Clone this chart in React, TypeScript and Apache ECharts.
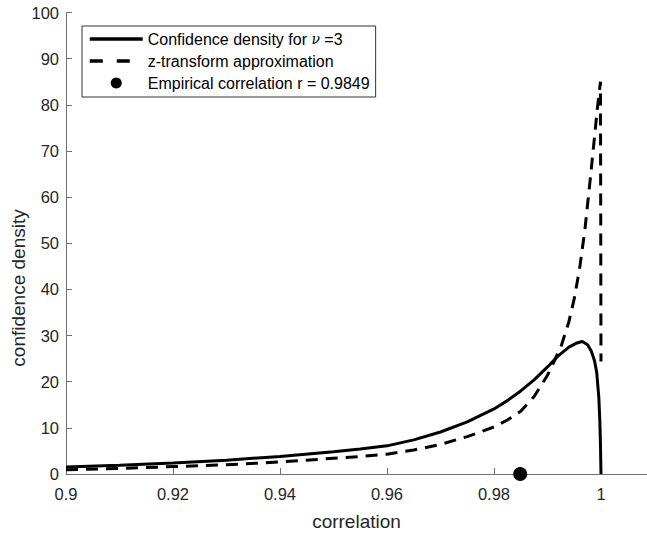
import React, { useEffect, useRef } from 'react';
import * as echarts from 'echarts';

const FONT = "'Liberation Sans', Arial, Helvetica, sans-serif";

const seriesNames = [
  'Confidence density for ν =3',
  'z-transform approximation',
  'Empirical correlation r = 0.9849',
];

// Confidence density for nu = 3
const confidenceDensity: [number, number][] = [
  [0.9, 1.5], [0.91, 1.9], [0.92, 2.4], [0.93, 3.0], [0.94, 3.8], [0.95, 4.8],
  [0.955, 5.4], [0.96, 6.1], [0.965, 7.4], [0.97, 9.1], [0.975, 11.3], [0.98, 14.1],
  [0.9825, 15.9], [0.985, 18.0], [0.9875, 20.4], [0.99, 23.2], [0.992, 25.6],
  [0.994, 27.5], [0.9955, 28.4], [0.9965, 28.7], [0.9975, 28.0], [0.9982, 26.6],
  [0.9988, 24.5], [0.9992, 22.0], [0.9996, 16.5], [0.9998, 11.0], [0.9999, 6.5],
  [1.0, 0],
];

// z-transform approximation
const zApprox: [number, number][] = [
  [0.9, 0.9], [0.91, 1.2], [0.92, 1.6], [0.93, 2.0], [0.94, 2.6], [0.95, 3.4],
  [0.955, 3.8], [0.96, 4.3], [0.965, 5.2], [0.97, 6.4], [0.975, 8.1], [0.98, 10.2],
  [0.9825, 11.7], [0.985, 13.6], [0.9875, 16.8], [0.99, 21.4], [0.9925, 27.5],
  [0.994, 33], [0.995, 38], [0.996, 44.5], [0.997, 53], [0.998, 64],
  [0.9987, 72], [0.9993, 79], [0.9997, 83], [0.9999, 85], [1.0, 24.4],
];

const empirical: [number, number][] = [[0.9849, 0]];

const xMin = 0.9;
const xMax = 1.0086;
const xStep = 0.02;
const yMin = 0;
const yMax = 100;
const yStep = 10;

export default function App() {
  const ref = useRef<HTMLDivElement>(null);

  useEffect(() => {
    if (!ref.current) return;
    const chart = echarts.init(ref.current, null, { renderer: 'svg' });
    const axisColor = '#707070';
    const labelColor = '#262626';
    const hiddenSymbol = { color: 'rgba(0,0,0,0)', borderWidth: 0, borderColor: 'rgba(0,0,0,0)', opacity: 0 };
    chart.setOption({
      animation: false,
      backgroundColor: '#ffffff',
      textStyle: { fontFamily: FONT },
      grid: { left: 66, right: 0, top: 12.5, bottom: 60.5 },
      xAxis: {
        type: 'value',
        min: xMin,
        max: xMax,
        interval: xStep,
        name: 'correlation',
        nameLocation: 'middle',
        nameGap: 38,
        nameTextStyle: { fontSize: 19, color: labelColor, fontFamily: FONT },
        axisLine: { show: true, lineStyle: { color: axisColor, width: 1 } },
        axisTick: { show: true, inside: true, length: 6, lineStyle: { color: axisColor } },
        axisLabel: { fontSize: 16.5, color: labelColor, margin: 11, showMaxLabel: false, fontFamily: FONT },
        splitLine: { show: false },
      },
      yAxis: {
        type: 'value',
        min: yMin,
        max: yMax,
        interval: yStep,
        axisLine: { show: true, lineStyle: { color: axisColor, width: 1 } },
        axisTick: { show: true, inside: true, length: 6, lineStyle: { color: axisColor } },
        axisLabel: { fontSize: 16.5, color: labelColor, margin: 7, fontFamily: FONT },
        splitLine: { show: false },
      },
      legend: {
        orient: 'vertical',
        left: 82,
        top: 26,
        padding: [5, 6, 6, 6],
        itemGap: 6,
        itemWidth: 53,
        itemHeight: 11,
        borderColor: '#333333',
        borderWidth: 1,
        backgroundColor: '#ffffff',
        selectedMode: false,
        textStyle: {
          fontSize: 16,
          color: '#000000',
          fontFamily: FONT,
          rich: {
            nu: { fontFamily: "'DejaVu Serif', serif", fontStyle: 'italic', fontSize: 14, color: '#000' },
          },
        },
        formatter: (name: string) => name.replace('ν', '{nu|ν}'),
        data: [
          { name: seriesNames[0], itemStyle: hiddenSymbol, lineStyle: { width: 3.5, type: 'solid', color: '#000' } },
          { name: seriesNames[1], itemStyle: hiddenSymbol, lineStyle: { width: 3.5, type: [13, 14], color: '#000' } },
          { name: seriesNames[2], icon: 'circle', itemStyle: { color: '#000', opacity: 1 } },
        ],
      },
      graphic: [
        {
          type: 'text',
          x: 18,
          y: 288,
          rotation: Math.PI / 2,
          style: {
            text: 'confidence density',
            fontSize: 19,
            fontFamily: FONT,
            fill: labelColor,
            align: 'center',
            verticalAlign: 'middle',
          },
        },
      ],
      series: [
        {
          type: 'line',
          name: seriesNames[0],
          data: confidenceDensity,
          symbol: 'none',
          smooth: false,
          lineStyle: { color: '#000', width: 3 },
          itemStyle: { color: '#000' },
          z: 3,
        },
        {
          type: 'line',
          name: seriesNames[1],
          data: zApprox,
          symbol: 'none',
          smooth: false,
          lineStyle: { color: '#000', width: 3, type: [12, 8] },
          itemStyle: { color: '#000' },
          z: 2,
        },
        {
          type: 'scatter',
          name: seriesNames[2],
          data: empirical,
          symbol: 'circle',
          symbolSize: 14,
          clip: false,
          itemStyle: { color: '#000', opacity: 1 },
          z: 5,
        },
      ],
    });
    return () => chart.dispose();
  }, []);

  return (
    <div
      ref={ref}
      style={{ position: 'absolute', left: 0, top: 0, width: 647, height: 536, background: '#fff' }}
    />
  );
}
